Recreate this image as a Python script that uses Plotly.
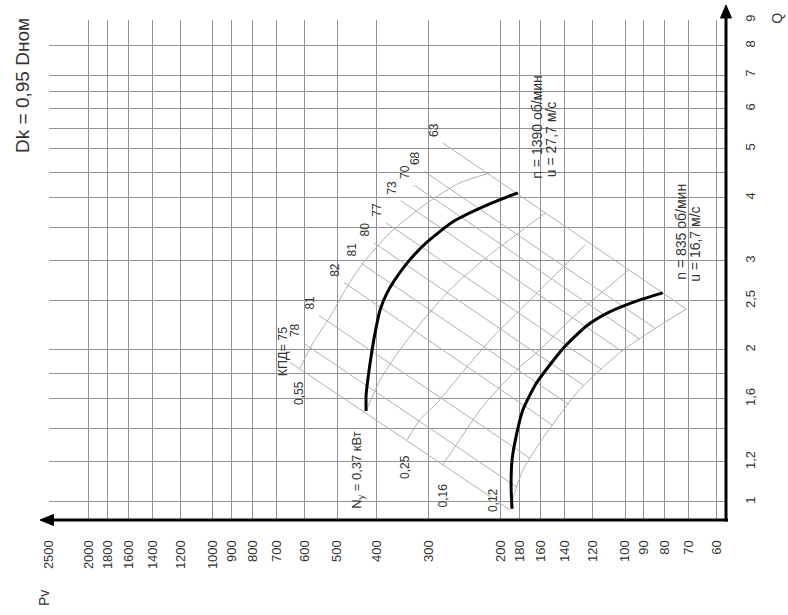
import math
import plotly.graph_objects as go

# ---- axis grid (Pv, Pa along the horizontal axis, Q, thousand m3/h along the vertical) ----
PV_GRID = [2500, 2000, 1800, 1600, 1400, 1200, 1000, 900, 800, 700, 600, 500, 400,
           300, 200, 180, 160, 140, 120, 100, 90, 80, 70, 60]
Q_TICKS = [1, 1.2, 1.6, 2, 2.5, 3, 4, 5, 6, 7, 8, 9]
Q_TICK_TEXT = ["1", "1,2", "1,6", "2", "2,5", "3", "4", "5", "6", "7", "8", "9"]
Q_MINOR_GRID = [1.4, 1.8, 3.5, 4.5, 5.5, 6.5]

# ---- fan characteristics ----
Q_1390 = [1.514, 1.629, 1.744, 2.0, 2.211, 2.400, 2.594, 2.752, 3.015, 3.272, 3.584, 3.892, 4.092]
PV_1390 = [425, 425, 421, 411, 402, 393, 378, 362, 333, 302, 262, 213, 182]
Q_835 = [0.969, 1.071, 1.211, 1.370, 1.521, 1.720, 2.018, 2.231, 2.378, 2.512, 2.594]
PV_835 = [188, 189, 188, 183, 177, 164, 141, 124, 109, 92, 81]

# ---- efficiency rays: start (Pv, Q), end (Pv, Q) ----
ETA_RAY_PV0 = [650, 601, 553, 481, 437, 407, 380, 350, 325, 308, 277]
ETA_RAY_Q0 = [1.89, 2.06, 2.34, 2.72, 2.97, 3.26, 3.57, 3.95, 4.24, 4.52, 5.14]
ETA_RAY_PV1 = [190, 183, 170, 150, 137, 126, 114, 102, 92, 84, 71]
ETA_RAY_Q1 = [0.964, 1.07, 1.22, 1.42, 1.56, 1.70, 1.83, 1.99, 2.10, 2.20, 2.41]
ETA_LABELS = ["78", "81", "82", "81", "80", "77", "73", "70", "68", "63"]
ETA_LABEL_PV = [632, 582, 506, 460, 428, 400, 368, 342, 323, 291]
ETA_LABEL_Q = [2.19, 2.48, 2.88, 3.16, 3.46, 3.79, 4.19, 4.50, 4.80, 5.45]

# ---- motor power lines, kW ----
N055_PV = [615, 572, 520, 473, 432, 372, 302, 252, 213]
N055_Q = [1.842, 2.064, 2.324, 2.665, 2.974, 3.410, 3.909, 4.283, 4.482]
N037_PV = [425, 393, 352, 306, 259, 213, 156]
N037_Q = [1.514, 1.744, 2.0, 2.313, 2.690, 3.084, 3.736]
N025_PV = [338, 315, 286, 242, 209, 170, 125]
N025_Q = [1.327, 1.454, 1.570, 1.851, 2.122, 2.512, 3.228]
N016_PV = [277, 252, 225, 201, 180, 161, 136, 98]
N016_Q = [1.184, 1.327, 1.521, 1.690, 1.851, 2.0, 2.293, 2.880]
N012_PV = [190, 177, 155, 129, 101, 71]
N012_Q = [0.978, 1.157, 1.370, 1.667, 2.0, 2.411]

GRID = "#929292"
MESH = "#b0b0b0"
TXT = "#333333"
FONT = "Liberation Sans, Arial, sans-serif"

fig = go.Figure()

def line(x, y, color, width):
    fig.add_trace(go.Scatter(x=x, y=y, mode="lines", hoverinfo="skip",
                             line=dict(color=color, width=width, shape="spline", smoothing=0.6)))

# efficiency rays
for i in range(len(ETA_RAY_PV0)):
    fig.add_trace(go.Scatter(x=[ETA_RAY_PV0[i], ETA_RAY_PV1[i]], y=[ETA_RAY_Q0[i], ETA_RAY_Q1[i]],
                             mode="lines", hoverinfo="skip", line=dict(color=MESH, width=1)))
# power lines
for px, qy in [(N055_PV, N055_Q), (N037_PV, N037_Q), (N025_PV, N025_Q),
               (N016_PV, N016_Q), (N012_PV, N012_Q)]:
    line(px, qy, MESH, 1)
# fan curves
line(PV_1390, Q_1390, "black", 3)
line(PV_835, Q_835, "black", 3)

ann = []
def rot(text, pv, q, size=12):
    # annotations on log axes take log10 positions
    ann.append(dict(x=math.log10(pv), y=math.log10(q), xref="x", yref="y", text=text,
                    showarrow=False, textangle=-90, xanchor="center", yanchor="middle",
                    font=dict(family=FONT, size=size, color=TXT)))

for t, pv, q in zip(ETA_LABELS, ETA_LABEL_PV, ETA_LABEL_Q):
    rot(t, pv, q)
rot("КПД= 75", 676, 1.98, 12.5)
rot("0,55", 618, 1.644)
rot("N<sub>y</sub> = 0,37 кВт", 445, 1.157, 13)
rot("0,25", 342, 1.173)
rot("0,16", 276, 1.032)
rot("0,12", 209, 1.009)
rot("n = 1390 об/мин", 163.5, 5.53, 14)
rot("u = 27,7 м/с", 151, 5.21, 14)
rot("n = 835 об/мин", 73.5, 3.43, 14)
rot("u = 16,7 м/с", 67.6, 3.23, 14)

def paper_text(text, x, y, size):
    ann.append(dict(x=x, y=y, xref="paper", yref="paper", text=text, showarrow=False,
                    textangle=-90, xanchor="center", yanchor="middle",
                    font=dict(family=FONT, size=size, color=TXT)))

paper_text("Dk = 0,95 Dном", -0.040, 0.87, 19)
paper_text("Q", 1.075, 1.004, 14)
paper_text("Pv", -0.0074, -0.156, 14)

# thick axes with arrow heads (paper coordinates)
shapes = [
    dict(type="line", xref="paper", yref="paper", x0=0.004, x1=1.003, y0=0, y1=0,
         line=dict(color="black", width=3)),
    dict(type="line", xref="paper", yref="paper", x0=1.0, x1=1.0, y0=-0.003, y1=1.008,
         line=dict(color="black", width=3)),
    dict(type="path", xref="paper", yref="paper", fillcolor="black",
         line=dict(color="black", width=1),
         path="M -0.0133,0 L 0.0065,0.011 L 0.0065,-0.011 Z"),
    dict(type="path", xref="paper", yref="paper", fillcolor="black",
         line=dict(color="black", width=1),
         path="M 1.0,1.030 L 0.9919,1.004 L 1.0081,1.004 Z"),
]

fig.update_layout(
    width=788, height=615, autosize=False,
    margin=dict(l=49, r=62, t=20, b=95),
    paper_bgcolor="white", plot_bgcolor="white",
    showlegend=False, annotations=ann, shapes=shapes,
    xaxis=dict(type="log", range=[3.39794, 1.7549], tickmode="array", tickvals=PV_GRID,
               ticktext=[str(v) for v in PV_GRID], tickangle=-90,
               showgrid=True, gridcolor=GRID, gridwidth=1, zeroline=False,
               showline=False, ticks="outside", ticklen=14,
               tickcolor="rgba(0,0,0,0)",
               tickfont=dict(family=FONT, size=13, color=TXT)),
    yaxis=dict(type="log", range=[-0.0357, 0.95424], tickmode="array", tickvals=Q_TICKS,
               ticktext=Q_TICK_TEXT, tickangle=-90,
               side="right", showgrid=True, gridcolor=GRID, gridwidth=1,
               zeroline=False, showline=False, ticks="outside", ticklen=12,
               tickcolor="rgba(0,0,0,0)",
               minor=dict(tickmode="array", tickvals=Q_MINOR_GRID, showgrid=True,
                          gridcolor=GRID, gridwidth=1, ticks=""),
               tickfont=dict(family=FONT, size=13, color=TXT)),
)

fig.write_html("out.html")
